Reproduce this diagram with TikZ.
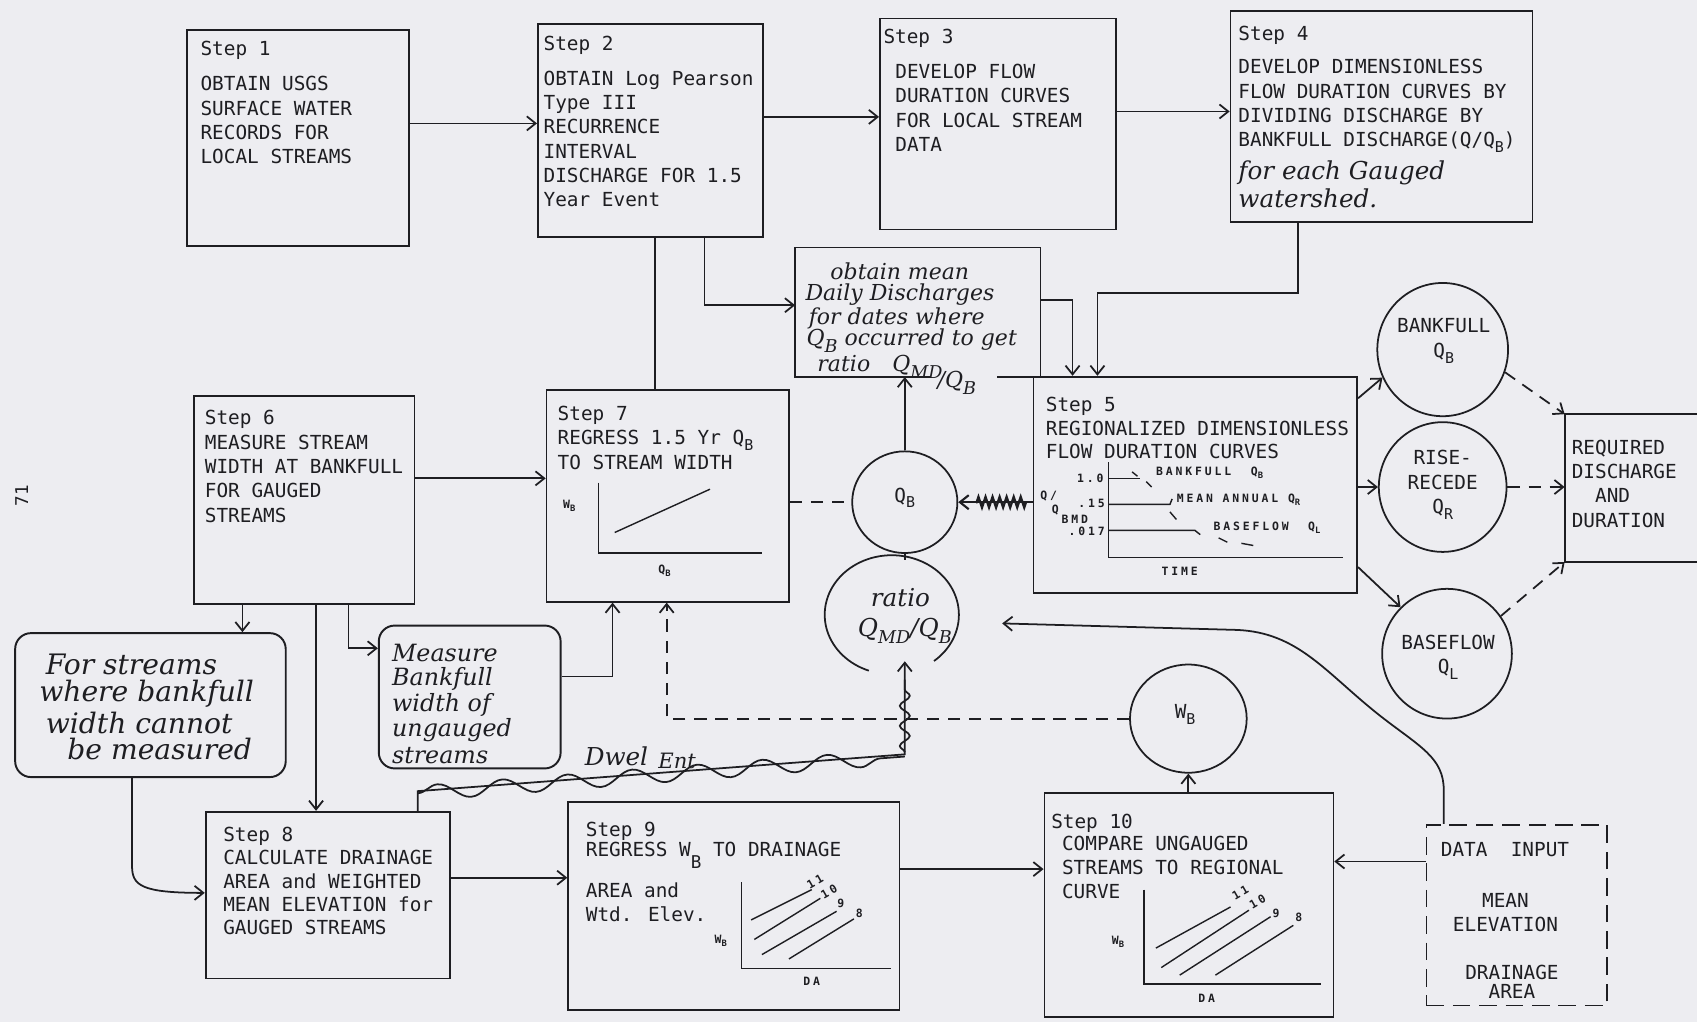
\documentclass[tikz,border=0pt]{standalone}
\usepackage{fontspec}
\newfontfamily\twfont{DejaVu Sans Mono}
\newfontfamily\handfont{DejaVu Serif}
\newfontfamily\lblfont{DejaVu Sans Mono}[LetterSpace=25]
\usetikzlibrary{arrows.meta,decorations.pathmorphing,fit,shapes.geometric}
\definecolor{paper}{RGB}{237,237,241}
\definecolor{inkc}{RGB}{30,30,34}
\newcommand\subx[1]{\raisebox{-0.55ex}{\fontsize{8.5}{8.5}\selectfont #1}}
\newcommand\subh[1]{\raisebox{-0.6ex}{\fontsize{10}{10}\selectfont #1}}
\newcommand\subl[1]{\raisebox{-0.5ex}{\fontsize{5}{5}\selectfont #1}}
\begin{document}
\begin{tikzpicture}[x=0.0216cm,y=-0.0216cm,
  ink/.style={draw=inkc,line width=1pt},
  thin/.style={draw=inkc,line width=0.8pt},
  box/.style={draw=inkc,line width=1pt,inner sep=0pt,rectangle},
  ghost/.style={draw=none,inner sep=0pt,rectangle},
  tx/.style={font=\twfont\fontsize{11}{13.8}\selectfont,text=inkc,align=left,inner sep=0pt,anchor=north west},
  txc/.style={font=\twfont\fontsize{11}{13.8}\selectfont,text=inkc,inner sep=0pt,align=center},
  lbl/.style={font=\lblfont\bfseries\fontsize{6.5}{6.5}\selectfont,text=inkc,inner sep=0pt},
  hw/.style={font=\handfont\itshape\fontsize{16}{16}\selectfont,text=inkc,inner sep=0pt,anchor=west},
  hws/.style={hw,font=\handfont\itshape\fontsize{13.5}{13.5}\selectfont},
  arr/.style={draw=inkc,line width=1pt,-{Straight Barb[length=5pt,width=8pt]}},
  dsh/.style={dash pattern=on 7pt off 5pt},
  bubble/.style={ellipse,draw=inkc,line width=1pt,inner sep=0pt},
  hbox/.style={draw=inkc,line width=1.1pt,inner sep=0pt,rounded corners=9pt}
]
\fill[paper] (0,0) rectangle (1568,944);
\useasboundingbox (0,0) rectangle (1568,944);

% ---------- boxes ----------
\node[box,fit={(173,28)(378,227)}] (s1) {};
\node[box,fit={(497,22)(705,219)}] (s2) {};
\node[box,fit={(813,17)(1031,212)}] (s3) {};
\node[box,fit={(1137,10)(1416,205)}] (s4) {};
\node[ghost,fit={(735,229)(961,348)}] (hb) {};
\draw[ink] (hb.south -| 859,0) -- (hb.south west) -- (hb.north west) -- (hb.north east) -- (hb.south east) -- (hb.south -| 921,0);
\node[box,fit={(955,348)(1254,548)}] (s5) {};
\node[box,fit={(179,366)(383,558)}] (s6) {};
\node[box,fit={(505,360)(729,556)}] (s7) {};
\node[hbox,fit={(14,585)(264,718)}] (fs) {};
\node[hbox,fit={(350,578)(518,710)}] (mb) {};
\node[box,fit={(190,750)(416,904)}] (s8) {};
\node[box,fit={(525,741)(831,933)}] (s9) {};
\node[box,fit={(965,733)(1232,940)}] (s10) {};
\node[box,dash pattern=on 10pt off 5pt,fit={(1318,762)(1485,929)}] (di) {};
\node[ghost,fit={(1446,383)(1568,519)}] (rq) {};
\draw[ink] (rq.north east) -- (rq.north west) -- (rq.south west) -- (rq.south east);

% ---------- bubbles ----------
\node[bubble,minimum width=2.61cm,minimum height=2.66cm] (bf) at (1333,323) {};
\node[bubble,minimum width=2.55cm,minimum height=2.59cm] (rr) at (1333,450) {};
\node[bubble,minimum width=2.59cm,minimum height=2.59cm] (bl) at (1337,604) {};
\node[bubble,minimum width=2.10cm,minimum height=2.03cm] (qb) at (836,464) {};
\node[bubble,minimum width=2.33cm,minimum height=2.16cm] (wb) at (1098,664) {};
\draw[ink] plot[domain=110:411,samples=90,variable=\t] ({824+62*cos(\t)},{568+55*sin(\t)});

% ---------- texts ----------
\node[tx] (t1) at (185,38) {Step 1\\[6pt]OBTAIN USGS\\SURFACE WATER\\RECORDS FOR\\LOCAL STREAMS};
\node[tx] (t2) at (502,33) {Step 2\\[6pt]OBTAIN Log Pearson\\Type III\\RECURRENCE\\INTERVAL\\DISCHARGE FOR 1.5\\Year Event};
\node[tx] (t3a) at (816,27) {Step 3};
\node[tx] (t3) at (827,59) {DEVELOP FLOW\\DURATION CURVES\\FOR LOCAL STREAM\\DATA};
\node[tx] (t4) at (1144,24) {Step 4\\[5pt]DEVELOP DIMENSIONLESS\\FLOW DURATION CURVES BY\\DIVIDING DISCHARGE BY\\BANKFULL DISCHARGE(Q/Q\subx{B})};
\node[hw,font=\handfont\itshape\fontsize{14}{14}\selectfont] (t4h1) at (1144,160) {for each Gauged};
\node[hw,font=\handfont\itshape\fontsize{14}{14}\selectfont] (t4h2) at (1144,183) {watershed.};
\node[tx,font=\twfont\fontsize{11}{13.2}\selectfont] (t5) at (966,367) {Step 5\\REGIONALIZED DIMENSIONLESS\\FLOW DURATION CURVES};
\node[tx] (t6) at (189,379) {Step 6\\MEASURE STREAM\\WIDTH AT BANKFULL\\FOR GAUGED\\STREAMS};
\node[tx] (t7) at (515,375) {Step 7\\REGRESS 1.5 Yr Q\subx{B}\\TO STREAM WIDTH};
\node[tx,font=\twfont\fontsize{11}{13.2}\selectfont] (t8) at (206,764) {Step 8\\CALCULATE DRAINAGE\\AREA and WEIGHTED\\MEAN ELEVATION for\\GAUGED STREAMS};
\node[tx] (t9) at (541,759) {Step 9\\[-2pt]REGRESS W\raisebox{-1.1ex}{\fontsize{10}{10}\selectfont B} TO DRAINAGE\\[7pt]AREA and\\Wtd. Elev.};
\node[tx] (t10a) at (971,752) {Step 10};
\node[tx] (t10) at (981,772) {COMPARE UNGAUGED\\STREAMS TO REGIONAL\\CURVE};
\node[tx] (tdi1) at (1331,778) {DATA\ \ INPUT};
\node[txc] (tdi2) at (1391,843) {MEAN\\ELEVATION};
\node[txc] (tdi3) at (1397,907) {DRAINAGE\\[-3pt]AREA};
\node[tx] (trq) at (1452,406) {REQUIRED\\DISCHARGE\\\phantom{DI}AND\\DURATION};
\node[txc] (tbf) at (1334,315) {BANKFULL\\Q\subx{B}};
\node[txc] (trr) at (1333,448) {RISE-\\RECEDE\\Q\subx{R}};
\node[txc] (tbl) at (1338,607) {BASEFLOW\\Q\subx{L}};
\node[txc] (tqb) at (836,460) {Q\subx{B}};
\node[txc] (twb) at (1095,660) {W\subx{B}};
\node[tx,rotate=90,anchor=center,font=\twfont\fontsize{10}{10}\selectfont] (pg) at (20,458) {71};

% handwritten texts
\node[hw,font=\handfont\itshape\fontsize{12.5}{12.5}\selectfont] (hb1) at (767,251) {obtain mean};
\node[hw,font=\handfont\itshape\fontsize{12.5}{12.5}\selectfont] (hb2) at (744,272) {Daily Discharges};
\node[hw,font=\handfont\itshape\fontsize{12.5}{12.5}\selectfont] (hb3) at (747,294) {for dates where};
\node[hw,font=\handfont\itshape\fontsize{12.5}{12.5}\selectfont] (hb4) at (745,315) {Q\subh{B} occurred to get};
\node[hw,font=\handfont\itshape\fontsize{12.5}{12.5}\selectfont] (hb5) at (755,339) {ratio\quad Q\subh{MD}};
\node[hw,font=\handfont\itshape\fontsize{12.5}{12.5}\selectfont] (hb6) at (866,354) {/Q\subh{B}};
\node[hw] (fs1) at (42,614) {For streams};
\node[hw] (fs2) at (36,641) {where bankfull};
\node[hw] (fs3) at (42,668) {width cannot};
\node[hw] (fs4) at (62,692) {be measured};
\node[hws] (mb1) at (362,603) {Measure};
\node[hws] (mb2) at (362,627) {Bankfull};
\node[hws] (mb3) at (362,651) {width of};
\node[hws] (mb4) at (362,675) {ungauged};
\node[hws] (mb5) at (362,698) {streams};
\node[hw,font=\handfont\itshape\fontsize{14}{14}\selectfont] (dw) at (540,699) {Dwel};
\node[hw,font=\handfont\itshape\fontsize{12}{12}\selectfont] (en) at (608,703) {Ent};
\node[hw,anchor=center,font=\handfont\itshape\fontsize{14}{14}\selectfont] (rt1) at (832,552) {ratio};
\node[hw,anchor=center,font=\handfont\itshape\fontsize{14}{14}\selectfont] (rt2) at (836,583) {Q\subh{MD}/Q\subh{B}};

% ---------- small graphs ----------
% step 7
\draw[thin] (553,446) -- (553,511) -- (704,511);
\draw[thin] (568,492) -- (656,452);
\node[lbl] (g7w) at (526,467) {W\subl{B}};
\node[lbl] (g7q) at (614,527) {Q\subl{B}};
% step 5
\draw[thin] (1024,427) -- (1024,515) -- (1241,515);
\draw[thin] (1024,442) -- (1053,442);
\draw[thin] (1024,466) -- (1081,466) -- (1083,461);
\draw[thin] (1024,490) -- (1104,490) -- (1109,494);
\draw[thin] (1046,436) -- (1051,440) (1059,445) -- (1064,450) (1081,473) -- (1087,480) (1126,497) -- (1134,501) (1147,502) -- (1158,504);
\node[lbl,anchor=east] (g5a) at (1020,442) {1.0};
\node[lbl,anchor=east] (g5b) at (1021,465) {.15};
\node[lbl,anchor=east] (g5c) at (1021,491) {.017};
\node[lbl] (g5d) at (969,458) {Q/};
\node[lbl] (g5e) at (975,471) {Q};
\node[lbl] (g5f) at (993,480) {BMD};
\node[lbl,anchor=west] (g5g) at (1068,437) {BANKFULL\ \ Q\subl{B}};
\node[lbl,anchor=west] (g5h) at (1087,462) {MEAN ANNUAL Q\subl{R}};
\node[lbl,anchor=west] (g5i) at (1121,488) {BASEFLOW\ \ Q\subl{L}};
\node[lbl] (g5j) at (1090,528) {TIME};
% step 9
\draw[thin] (685,815) -- (685,895) -- (823,895);
\draw[thin] (694,850) -- (750,822) (697,868) -- (758,830) (704,882) -- (773,842) (729,886) -- (789,849);
\node[lbl,rotate=30] (g9a) at (753,815) {11};
\node[lbl,rotate=30] (g9b) at (766,824) {10};
\node[lbl] (g9c) at (777,835) {9};
\node[lbl] (g9d) at (794,844) {8};
\node[lbl] (g9w) at (666,869) {W\subl{B}};
\node[lbl] (g9x) at (750,907) {DA};
% step 10
\draw[thin] (1057,822) -- (1057,909) -- (1221,909);
\draw[thin] (1068,876) -- (1137,838) (1073,894) -- (1154,841) (1090,901) -- (1174,847) (1123,901) -- (1195,855);
\node[lbl,rotate=30] (g10a) at (1146,825) {11};
\node[lbl,rotate=30] (g10b) at (1162,833) {10};
\node[lbl] (g10c) at (1179,844) {9};
\node[lbl] (g10d) at (1200,848) {8};
\node[lbl] (g10w) at (1033,870) {W\subl{B}};
\node[lbl] (g10x) at (1115,922) {DA};

% ---------- connectors ----------
\draw[arr] (s1.east |- 0,114) -- (s2.west |- 0,114);
\draw[arr] (s2.east |- 0,108) -- (s3.west |- 0,108);
\draw[arr] (s3.east |- 0,103) -- (s4.west |- 0,103);
\draw[arr] (s2.south -| 651,0) -- (651,282) -- (hb.west |- 0,282);
\draw[ink] (s2.south -| 605,0) -- (s7.north -| 605,0);
\draw[arr] (hb.east |- 0,277) -- (991,277) -- (s5.north -| 991,0);
\draw[arr] (s4.south -| 1199,0) -- (1199,271) -- (1014,271) -- (s5.north -| 1014,0);
\draw[arr] (qb.north) -- (hb.south -| qb.north);
\draw[ink,dsh] (s7.east |- qb.west) -- (qb.west);
\draw[arr,line width=1.2pt] (s5.west |- qb.east) -- (qb.east);
\draw[ink,line width=1.3pt,decorate,decoration={zigzag,amplitude=3pt,segment length=4pt}] (948,464) -- (902,464);
\coordinate (rtop) at (836,517);
\draw[ink] (qb.south) -- (rtop);
\draw[arr] (s6.east |- 0,442) -- (s7.west |- 0,442);
\draw[arr] (s6.south -| 224,0) -- (fs.north -| 224,0);
\draw[arr] (s6.south -| 292,0) -- (s8.north -| 292,0);
\draw[arr] (s6.south -| 322,0) -- (322,599) -- (mb.west |- 0,599);
\draw[arr] (mb.east |- 0,625) -- (566,625) -- (s7.south -| 566,0);
\draw[arr] (fs.south -| 122,0) -- (122,800) .. controls (122,818) and (130,825) .. (s8.west |- 0,825);
\draw[arr,dsh] (wb.west) -- (wb.west -| 616,0) -- (s7.south -| 616,0);
\draw[arr] (s10.north -| wb.south) -- (wb.south);
\draw[arr] (s8.east |- 0,811) -- (s9.west |- 0,811);
\draw[arr] (s9.east |- 0,803) -- (s10.west |- 0,803);
\draw[arr] (di.west |- 0,796) -- (s10.east |- 0,796);
\coordinate (rtip) at (926,576);
\draw[arr] (di.north -| 1334,0) -- (1334,730) .. controls (1334,700) and (1312,690) .. (1276,662) .. controls (1225,622) and (1200,584) .. (1142,582) -- (rtip);
\coordinate (rbot) at (836,611);
\draw[arr] (s8.north -| 386,0) -- (386,731) -- (836,697) -- (rbot);
\draw[ink,decorate,decoration={snake,amplitude=0.15cm,segment length=1.3cm}] (386,733) -- (836,699);
\draw[ink,decorate,decoration={snake,amplitude=0.1cm,segment length=0.4cm}] (836,695) -- (836,628);
\draw[arr] (s5.east |- 0,368) -- (bf.205);
\draw[arr] (s5.east |- rr.west) -- (rr.west);
\draw[arr] (s5.east |- 0,524) -- (bl.135);
\draw[arr,dsh] (bf.-20) -- (rq.north west);
\draw[arr,dsh] (rr.east) -- (rq.west |- rr.east);
\draw[arr,dsh] (bl.35) -- (rq.south west);
\end{tikzpicture}
\end{document}
